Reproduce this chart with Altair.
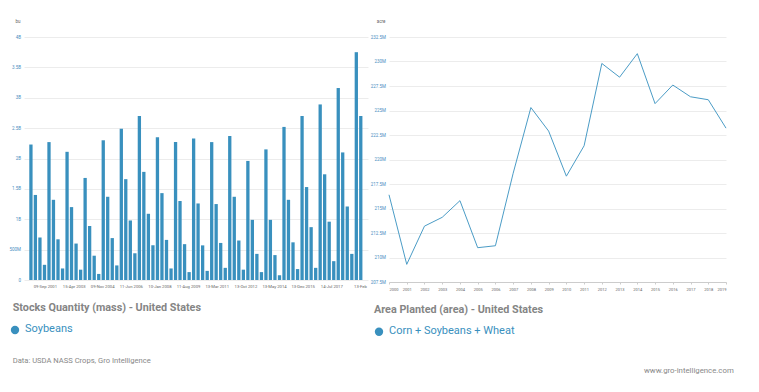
import altair as alt
import pandas as pd

# ---------------- data ----------------
stock_dates = [
    "2000-12-01",
    "2001-03-01", "2001-06-01", "2001-09-01", "2001-12-01",
    "2002-03-01", "2002-06-01", "2002-09-01", "2002-12-01",
    "2003-03-01", "2003-06-01", "2003-09-01", "2003-12-01",
    "2004-03-01", "2004-06-01", "2004-09-01", "2004-12-01",
    "2005-03-01", "2005-06-01", "2005-09-01", "2005-12-01",
    "2006-03-01", "2006-06-01", "2006-09-01", "2006-12-01",
    "2007-03-01", "2007-06-01", "2007-09-01", "2007-12-01",
    "2008-03-01", "2008-06-01", "2008-09-01", "2008-12-01",
    "2009-03-01", "2009-06-01", "2009-09-01", "2009-12-01",
    "2010-03-01", "2010-06-01", "2010-09-01", "2010-12-01",
    "2011-03-01", "2011-06-01", "2011-09-01", "2011-12-01",
    "2012-03-01", "2012-06-01", "2012-09-01", "2012-12-01",
    "2013-03-01", "2013-06-01", "2013-09-01", "2013-12-01",
    "2014-03-01", "2014-06-01", "2014-09-01", "2014-12-01",
    "2015-03-01", "2015-06-01", "2015-09-01", "2015-12-01",
    "2016-03-01", "2016-06-01", "2016-09-01", "2016-12-01",
    "2017-03-01", "2017-06-01", "2017-09-01", "2017-12-01",
    "2018-03-01", "2018-06-01", "2018-09-01", "2018-12-01",
    "2019-03-01",
]
# soybean stocks, billion bushels
stock_values = [
    2.23,
    1.40, 0.70, 0.25, 2.27,
    1.32, 0.67, 0.19, 2.11,
    1.20, 0.60, 0.17, 1.68,
    0.89, 0.40, 0.10, 2.30,
    1.37, 0.69, 0.24, 2.49,
    1.66, 0.98, 0.44, 2.70,
    1.78, 1.09, 0.57, 2.35,
    1.43, 0.66, 0.19, 2.27,
    1.30, 0.59, 0.13, 2.33,
    1.26, 0.57, 0.15, 2.27,
    1.25, 0.61, 0.20, 2.37,
    1.37, 0.65, 0.17, 1.96,
    0.99, 0.43, 0.13, 2.15,
    0.99, 0.41, 0.08, 2.52,
    1.32, 0.62, 0.18, 2.70,
    1.53, 0.87, 0.20, 2.89,
    1.74, 0.96, 0.31, 3.16,
    2.10, 1.21, 0.43, 3.75,
    2.70,
]
stock_tick_dates = [(2001, 9, 9), (2003, 4, 15), (2004, 11, 9), (2006, 6, 11),
                    (2008, 1, 10), (2009, 8, 11), (2011, 3, 13), (2012, 10, 13),
                    (2014, 5, 13), (2015, 12, 13), (2017, 7, 14), (2019, 2, 13)]
stock_y_ticks = [0, 0.5, 1, 1.5, 2, 2.5, 3, 3.5, 4]

area_years = list(range(2000, 2020))
# corn + soybeans + wheat planted area, million acres
area_values = [216.4, 209.3, 213.2, 214.1, 215.8, 211.0, 211.2, 218.6, 225.3, 222.9,
               218.3, 221.4, 229.8, 228.4, 230.8, 225.7, 227.6, 226.4, 226.1, 223.2]
area_y_ticks = [207.5, 210, 212.5, 215, 217.5, 220, 222.5, 225, 227.5, 230, 232.5]

left_title = "Stocks Quantity (mass) - United States"
left_legend = "Soybeans"
right_title = "Area Planted (area) - United States"
right_legend = "Corn + Soybeans + Wheat"
source_text = "Data: USDA NASS Crops, Gro Intelligence"
site_text = "www.gro-intelligence.com"

# ---------------- style ----------------
FONT = "Roboto"
BLUE = "#3990be"
LINE = "#4b9cc6"
GRAY_T = "#858585"
GRID = "#ececec"

stocks = pd.DataFrame({"date": stock_dates, "value": stock_values})
area = pd.DataFrame({"year": area_years, "value": area_values})

LW, LH = 344, 243
RW, RH = 337, 245


def one(text):
    return alt.Chart(pd.DataFrame({"t": [text]}))


def annot(text, x, y, size, color, weight="normal", align="left"):
    return one(text).mark_text(align=align, baseline="middle", font=FONT, fontSize=size,
                               color=color, fontWeight=weight).encode(
        text="t:N", x=alt.value(x), y=alt.value(y))


def dot(x, y):
    return one("d").mark_point(filled=True, size=70, color=BLUE, opacity=1).encode(
        x=alt.value(x), y=alt.value(y))


def anchor(x, y):
    # invisible frame anchor that fixes the panel's top-left bounds
    return one("a").mark_rule(strokeOpacity=0, strokeWidth=0.1).encode(
        x=alt.value(x), y=alt.value(y), y2=alt.value(y + 1))


bars = alt.Chart(stocks).mark_bar(size=3.3, color=BLUE).encode(
    x=alt.X("date:T",
            scale=alt.Scale(type="utc",
                            domain=[alt.DateTime(year=2000, month=10, date=23, utc=True),
                                    alt.DateTime(year=2019, month=4, date=15, utc=True)]),
            axis=alt.Axis(values=[alt.DateTime(year=y, month=m, date=d, utc=True)
                                  for (y, m, d) in stock_tick_dates],
                          labelExpr="utcFormat(datum.value, '%Y') == '2019' ? utcFormat(datum.value, '%d-%b') : utcFormat(datum.value, '%d-%b %Y')",
                          title=None, domain=False, ticks=False, grid=False,
                          labelFontSize=4.2, labelColor="#666666", labelPadding=4,
                          labelFlush=8, labelOverlap=False)),
    y=alt.Y("value:Q",
            scale=alt.Scale(domain=[0, 4], nice=False),
            axis=alt.Axis(values=stock_y_ticks,
                          labelExpr="datum.value == 0 ? '0' : datum.value < 1 ? format(datum.value * 1000, 'd') + 'M' : datum.value + 'B'",
                          title="bu", titleAngle=0, titleX=-4, titleY=-16,
                          titleAlign="right", titleBaseline="middle",
                          titleFontSize=4.5, titleColor="#666666", titleFontWeight="normal",
                          domain=False, ticks=False, labelFontSize=4.5, labelColor="#4a8fbf",
                          labelPadding=3.5, gridColor=GRID)),
)

left = alt.layer(
    anchor(-16, -29),
    bars,
    annot(left_title, -11.3, 271, 10.8, GRAY_T, weight="bold"),
    dot(-9, 293),
    annot(left_legend, 1, 292, 11, BLUE),
    annot(source_text, -11.3, 323.7, 7.6, "#888888"),
).properties(width=LW, height=LH)

line = alt.Chart(area).mark_line(color=LINE, strokeWidth=1).encode(
    x=alt.X("year:Q", scale=alt.Scale(domain=[2000, 2019], nice=False, zero=False),
            axis=alt.Axis(values=area_years, format="d", title=None, grid=False,
                          domainColor="#cccccc", tickColor="#cccccc", tickSize=2,
                          labelFontSize=4, labelColor="#666666", labelPadding=3)),
    y=alt.Y("value:Q", scale=alt.Scale(domain=[207.5, 232.5], nice=False, zero=False),
            axis=alt.Axis(values=area_y_ticks, labelExpr="datum.value + 'M'",
                          title="acre", titleAngle=0, titleX=-4, titleY=-16,
                          titleAlign="right", titleBaseline="middle",
                          titleFontSize=4.5, titleColor="#666666", titleFontWeight="normal",
                          domain=False, ticks=False, labelFontSize=4.5, labelColor="#4a8fbf",
                          labelPadding=3.5, gridColor=GRID)),
)

right = alt.layer(
    anchor(-19, -28),
    line,
    annot(right_title, -15, 273, 10.8, GRAY_T, weight="bold"),
    dot(-10, 294.7),
    annot(right_legend, 0, 294, 11, BLUE),
    annot(site_text, 255, 334, 7.8, "#888888"),
).properties(width=RW, height=RH)

chart = alt.hconcat(left, right, spacing=2).properties(
    padding={"left": 0, "top": 0, "right": 0, "bottom": 0},
    background="white",
).configure_view(stroke=None).configure_axis(labelFont=FONT, titleFont=FONT)

chart.save("out.html", embed_options={"renderer": "svg", "actions": False})
